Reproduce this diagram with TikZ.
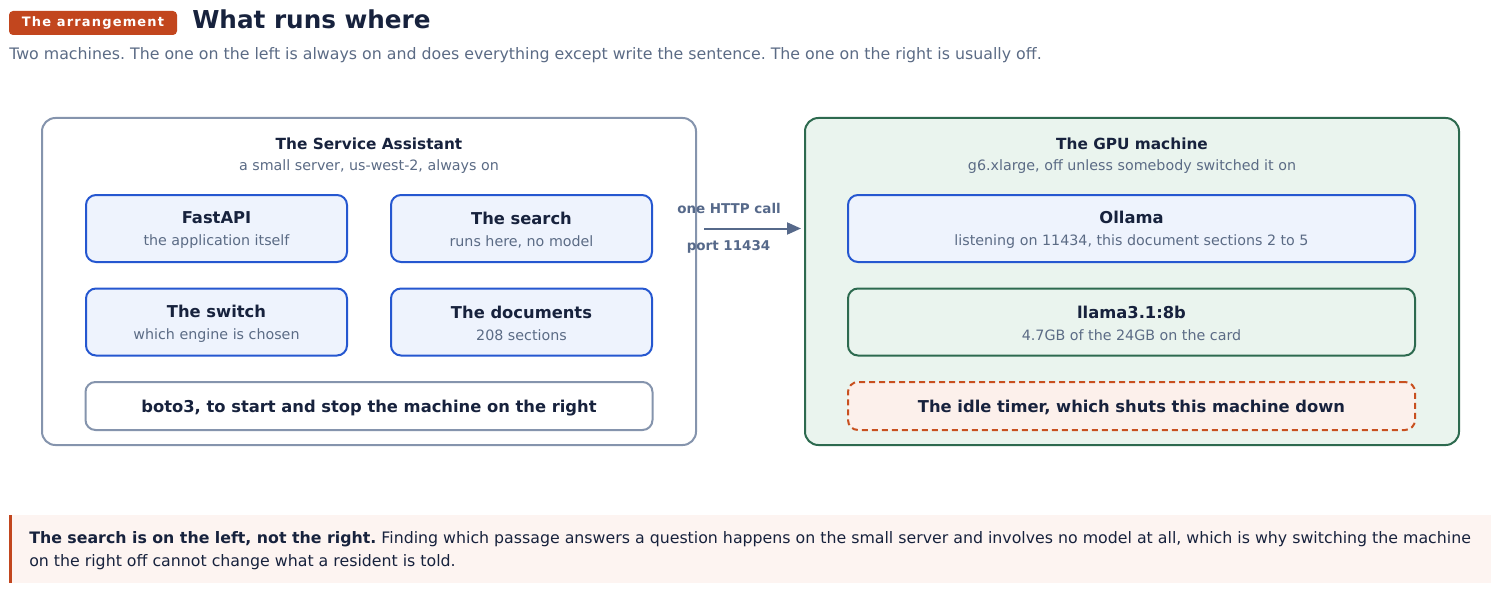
\documentclass[tikz,border=0pt]{standalone}
\usepackage{fontspec}
\setmainfont{DejaVu Sans}
\usetikzlibrary{calc,arrows.meta}
\definecolor{ink}{HTML}{17223D}
\definecolor{muted}{HTML}{5B6B85}
\definecolor{badge}{HTML}{C2461E}
\definecolor{slate}{HTML}{8594AD}
\definecolor{blueline}{HTML}{2557D0}
\definecolor{bluefill}{HTML}{EEF3FD}
\definecolor{greenline}{HTML}{2D6A4F}
\definecolor{greenfill}{HTML}{EAF4EE}
\definecolor{orangeline}{HTML}{C8501F}
\definecolor{orangefill}{HTML}{FCF0EB}
\definecolor{notefill}{HTML}{FDF4F1}
\definecolor{arrowc}{HTML}{56698A}
\def\parttext#1#2{{\fontsize{12.25}{16.5}\selectfont\bfseries\rule{0pt}{11.5pt}#1}\\{\color{muted}#2}}
\frenchspacing

\begin{document}
\begin{tikzpicture}[x=0.75pt, y=-0.75pt,
	every node/.style={font=\fontsize{10.7}{16.5}\selectfont, text=ink},
	machine/.style={line width=1.5pt, rounded corners=10pt, minimum width=490.5pt, minimum height=245.25pt, inner sep=0pt},
	part/.style={draw=blueline, fill=bluefill, line width=1.5pt, rounded corners=7.5pt, minimum width=195.75pt, minimum height=50.25pt, inner sep=0pt, align=center},
	wide/.style={minimum width=425.25pt},
	bar/.style={line width=1.5pt, rounded corners=7.5pt, minimum height=36pt, inner sep=0pt, text height=10.3pt, text depth=0pt, font=\fontsize{12.25}{16.5}\selectfont\bfseries},
	head/.style={font=\fontsize{11.5}{14}\selectfont\bfseries},
	sub/.style={text=muted},
	link/.style={draw=arrowc, line width=1.5pt, -{Triangle[length=10.5pt,width=9pt]}, shorten <=5.25pt, shorten >=2.25pt},
	linklabel/.style={text=arrowc, font=\fontsize{10.1}{12}\selectfont\bfseries}]
	\useasboundingbox (0,0) rectangle (1500,592);
	% Heading
	\node[fill=badge, rounded corners=3pt, minimum width=126pt, minimum height=18pt, inner sep=0pt, text=white, font=\fontsize{9.75}{12}\selectfont\bfseries\addfontfeatures{LetterSpace=9}] (tag) at (93,23) {The arrangement};
	\node[anchor=west, inner sep=0pt, font=\fontsize{18.5}{22}\selectfont\bfseries] (title) at (192,19) {What runs where};
	\node[anchor=west, inner sep=0pt, sub, font=\fontsize{11.85}{15}\selectfont] (intro) at (9,55) {Two machines. The one on the left is always on and does everything except write the sentence. The one on the right is usually off.};
	% The two machines
	\node[machine, draw=slate, fill=white] (service) at (369,281.5) {};
	\node[machine, draw=greenline, fill=greenfill] (gpu) at (1132,281.5) {};
	\node[head] (servicehead) at (369,143.5) {The Service Assistant};
	\node[sub] (servicesub) at (369,167) {a small server, us-west-2, always on};
	\node[head] (gpuhead) at (1132,143.5) {The GPU machine};
	\node[sub] (gpusub) at (1132,167) {g6.xlarge, off unless somebody switched it on};
	% Left side
	\node[part] (fastapi) at (216.5,228.5) {\parttext{FastAPI}{the application itself}};
	\node[part] (search) at (521.5,228.5) {\parttext{The search}{runs here, no model}};
	\node[part] (switch) at (216.5,322) {\parttext{The switch}{which engine is chosen}};
	\node[part] (docs) at (521.5,322) {\parttext{The documents}{208 sections}};
	\node[bar, wide, draw=slate, fill=white] (boto) at (369,406) {boto3, to start and stop the machine on the right};
	% Right side
	\node[part, wide] (ollama) at (1131.5,228.5) {\parttext{Ollama}{listening on 11434, this document sections 2 to 5}};
	\node[part, wide, draw=greenline, fill=greenfill] (llama) at (1131.5,322) {\parttext{llama3.1:8b}{4.7GB of the 24GB on the card}};
	\node[bar, wide, draw=orangeline, fill=orangefill, dash pattern=on 4.5pt off 3pt] (idle) at (1131.5,406) {The idle timer, which shuts this machine down};
	% The call between them
	\draw[link] (service.east |- search.east) -- (gpu.west |- search.east);
	\node[linklabel] (calllabel) at (729,208) {one HTTP call};
	\node[linklabel] (portlabel) at (728.5,247) {port 11434};
	% Note at the bottom
	\fill[notefill] (9,515) rectangle (1491,583);
	\fill[badge] (9,515) rectangle (12,583);
	\node[anchor=west, inner sep=0pt, align=left, font=\fontsize{11.84}{17.25}\selectfont] (note) at (29,551) {\textbf{The search is on the left, not the right.} Finding which passage answers a question happens on the small server and involves no model at all, which is why switching the machine\\on the right off cannot change what a resident is told.};
\end{tikzpicture}
\end{document}
